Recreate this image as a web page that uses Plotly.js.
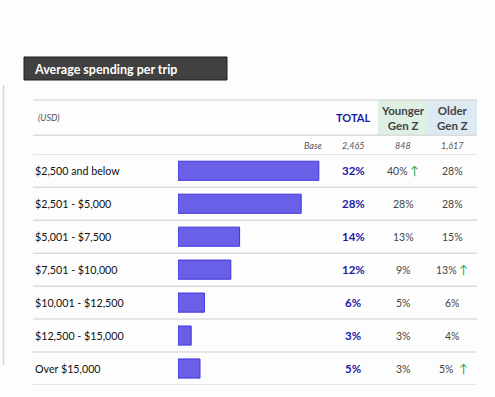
<!DOCTYPE html>
<html>
<head>
<meta charset="utf-8">
<script src="https://cdn.plot.ly/plotly-3.0.1.min.js"></script>
<style>html,body{margin:0;padding:0;background:#fff;}#chart{width:495px;height:397px;}</style>
</head>
<body>
<div id="chart"></div>
<script>
const categories = ["$2,500 and below","$2,501 - $5,000","$5,001 - $7,500","$7,501 - $10,000","$10,001 - $12,500","$12,500 - $15,000","Over $15,000"];
const totalPct = [32,28,14,12,6,3,5];
const youngerPct = [40,28,13,9,5,3,3];
const olderPct = [28,28,15,13,6,4,5];
const youngerUp = [true,false,false,false,false,false,false];
const olderUp = [false,false,false,true,false,false,true];
const baseLabels = ["2,465","848","1,617"];
const columnHeaders = ["TOTAL","Younger<br>Gen Z","Older<br>Gen Z"];
const chartTitle = "Average spending per trip";
const unitLabel = "(USD)";
const baseLabel = "Base";

const W = 495, H = 397;
const px = v => v / W;
const py = v => 1 - v / H;
const FONT = "Lato, 'Open Sans', sans-serif";
const rows = categories.map((_, i) => i);

const colX = [353, 403, 452];
const annotations = [];
const shapes = [];

// title box
shapes.push({type:'rect', xref:'paper', yref:'paper', x0:px(24), x1:px(227), y0:py(80), y1:py(57),
  fillcolor:'#414141', line:{color:'#1e1e1e', width:1}});
annotations.push({xref:'paper', yref:'paper', x:px(32), y:py(69), xanchor:'left', yanchor:'middle',
  text:'<b>'+chartTitle+'</b>', showarrow:false, font:{family:FONT, size:12.5, color:'#ffffff'}});

// left vertical rule
shapes.push({type:'line', xref:'paper', yref:'paper', x0:px(3.5), x1:px(3.5), y0:py(85), y1:py(365),
  line:{color:'#d6d6d6', width:1.5}});

// header backgrounds
shapes.push({type:'rect', xref:'paper', yref:'paper', x0:px(378), x1:px(428), y0:py(135), y1:py(100),
  fillcolor:'#deefe4', line:{width:0}, layer:'below'});
shapes.push({type:'rect', xref:'paper', yref:'paper', x0:px(428), x1:px(477), y0:py(135), y1:py(100),
  fillcolor:'#dde9f3', line:{width:0}, layer:'below'});

// header lines
[100, 135.3].forEach(p => shapes.push({type:'line', xref:'paper', yref:'paper', x0:px(33), x1:px(477),
  y0:py(p), y1:py(p), line:{color:'#dcdcdc', width:1.5}}));
// row separators
for (let i = -1; i < categories.length; i++) {
  shapes.push({type:'line', xref:'paper', yref:'y', x0:px(33), x1:px(477), y0:i+0.5, y1:i+0.5,
    line:{color:'#dcdcdc', width:1.5}});
}

// header texts
annotations.push({xref:'paper', yref:'paper', x:px(36), y:py(118), xanchor:'left', yanchor:'middle',
  text:'<i>'+unitLabel+'</i>', showarrow:false, font:{family:FONT, size:9, color:'#555'}});
annotations.push({xref:'paper', yref:'paper', x:px(colX[0]), y:py(118), xanchor:'center', yanchor:'middle',
  text:'<b>'+columnHeaders[0]+'</b>', showarrow:false, font:{family:FONT, size:11, color:'#1a1aa6'}});
[1,2].forEach(k => annotations.push({xref:'paper', yref:'paper', x:px(colX[k]), y:py(118), xanchor:'center', yanchor:'middle',
  text:'<b>'+columnHeaders[k]+'</b>', showarrow:false, font:{family:FONT, size:11.5, color:'#444'}}));

// base row
annotations.push({xref:'paper', yref:'paper', x:px(324), y:py(145), xanchor:'right', yanchor:'middle',
  text:'<i>'+baseLabel+'</i>', showarrow:false, font:{family:FONT, size:9, color:'#555'}});
baseLabels.forEach((b,k) => annotations.push({xref:'paper', yref:'paper', x:px(colX[k]), y:py(145), xanchor:'center', yanchor:'middle',
  text:'<i>'+b+'</i>', showarrow:false, font:{family:FONT, size:9, color:'#555'}}));

// rows
rows.forEach(i => {
  annotations.push({xref:'paper', yref:'y', x:px(33), y:i, xanchor:'left', yanchor:'middle',
    text:categories[i], showarrow:false, font:{family:FONT, size:10.7, color:'#111'}});
  annotations.push({xref:'paper', yref:'y', x:px(colX[0]), y:i, xanchor:'center', yanchor:'middle',
    text:'<b>'+totalPct[i]+'%</b>', showarrow:false, font:{family:FONT, size:11.5, color:'#1a1aa6'}});
  [[youngerPct, youngerUp, 1], [olderPct, olderUp, 2]].forEach(([vals, ups, k]) => {
    const up = ups[i];
    annotations.push({xref:'paper', yref:'y', x:px(colX[k] - (up ? 6 : 0)), y:i, xanchor:'center', yanchor:'middle',
      text:vals[i]+'%', showarrow:false, font:{family:FONT, size:10.5, color:'#444'}});
    if (up) annotations.push({xref:'paper', yref:'y', x:px(colX[k] + 11), y:i, xanchor:'center', yanchor:'middle',
      text:'↑', showarrow:false, font:{family:FONT, size:12, color:'#22a447'}});
  });
});

const trace = {
  type:'bar', orientation:'h', y:rows, x:totalPct, width:0.58,
  marker:{color:'#6a60e8', line:{color:'#3f33e0', width:1}},
  hoverinfo:'skip'
};

const layout = {
  width:W, height:H, margin:{l:0,r:0,t:0,b:0},
  paper_bgcolor:'#fdfdfd', plot_bgcolor:'rgba(0,0,0,0)',
  showlegend:false,
  xaxis:{domain:[px(178), px(178+176)], range:[0,40], visible:false, fixedrange:true},
  yaxis:{domain:[py(385), py(154.3)], range:[6.5,-0.5], visible:false, fixedrange:true},
  shapes:shapes, annotations:annotations
};

Plotly.newPlot('chart', [trace], layout, {displayModeBar:false, staticPlot:true});
</script>
</body>
</html>
